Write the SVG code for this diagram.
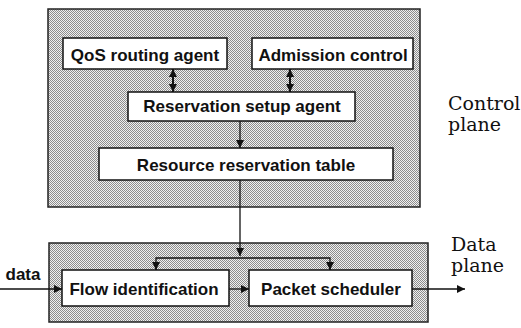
<svg xmlns="http://www.w3.org/2000/svg" width="521" height="328" viewBox="0 0 521 328">
<style>
.plane{fill:url(#stip);stroke:#222;stroke-width:1.5}
.box{fill:#fff;stroke:#111;stroke-width:1.5}
.lbl{font-family:"Liberation Sans",Arial,sans-serif;font-weight:bold;font-size:17px;fill:#111;text-anchor:middle}
.side{font-family:"DejaVu Serif","Liberation Serif",serif;font-size:19px;fill:#111}
.conn{stroke:#111;stroke-width:1.3;fill:none}
.dbl{stroke:#111;stroke-width:2;fill:none}
</style>
<defs>
<pattern id="stip" width="2" height="2" patternUnits="userSpaceOnUse">
<rect width="2" height="2" fill="#f0f0f0"/>
<rect width="1" height="1" fill="#8c8c8c"/>
<rect x="1" y="1" width="1" height="1" fill="#8c8c8c"/>
</pattern>
<marker id="ah" viewBox="0 0 10 10" refX="10" refY="5" markerWidth="9" markerHeight="8" markerUnits="userSpaceOnUse" orient="auto-start-reverse">
<path d="M0,0 L10,5 L0,10 z" fill="#111"/>
</marker>
</defs>
<g id="control-plane">
<rect class="plane" x="48" y="9" width="372" height="198"/>
<text class="side" x="448" y="110">Control</text>
<text class="side" x="448" y="131">plane</text>
</g>
<g id="data-plane">
<rect class="plane" x="49" y="243" width="379" height="79"/>
<text class="side" x="451" y="251" font-size="18">Data</text>
<text class="side" x="451" y="272" font-size="18">plane</text>
</g>
<g id="qos">
<rect class="box" x="63" y="38" width="164" height="31"/>
<text class="lbl" x="145" y="61">QoS routing agent</text>
</g>
<g id="admission">
<rect class="box" x="252" y="38" width="161" height="31"/>
<text class="lbl" x="333" y="61">Admission control</text>
</g>
<g id="rsa">
<rect class="box" x="128" y="92" width="227" height="29"/>
<text class="lbl" x="242" y="112">Reservation setup agent</text>
</g>
<g id="rrt">
<rect class="box" x="99" y="148" width="294" height="32"/>
<text class="lbl" x="246" y="171">Resource reservation table</text>
</g>
<g id="flow">
<rect class="box" x="62" y="270" width="167" height="36"/>
<text class="lbl" x="144" y="295">Flow identification</text>
</g>
<g id="sched">
<rect class="box" x="249" y="270" width="163" height="36"/>
<text class="lbl" x="331" y="295">Packet scheduler</text>
</g>
<g id="data-label">
<text class="lbl" x="23" y="280">data</text>
</g>
<g id="connectors">
<line class="dbl" x1="173" y1="69" x2="173" y2="92" marker-start="url(#ah)" marker-end="url(#ah)"/>
<line class="dbl" x1="290" y1="69" x2="290" y2="92" marker-start="url(#ah)" marker-end="url(#ah)"/>
<line class="conn" x1="240" y1="121" x2="240" y2="148" marker-end="url(#ah)"/>
<line class="conn" x1="240" y1="180" x2="240" y2="256" marker-end="url(#ah)"/>
<polyline class="conn" points="156,270 156,258 330,258 330,270"/>
<line class="conn" x1="156" y1="262" x2="156" y2="270" marker-end="url(#ah)"/>
<line class="conn" x1="330" y1="262" x2="330" y2="270" marker-end="url(#ah)"/>
<line class="conn" x1="0" y1="289" x2="62" y2="289" marker-end="url(#ah)"/>
<line class="conn" x1="229" y1="289" x2="249" y2="289" marker-end="url(#ah)"/>
<line class="conn" x1="412" y1="289" x2="465" y2="289" marker-end="url(#ah)"/>
</g>
</svg>
